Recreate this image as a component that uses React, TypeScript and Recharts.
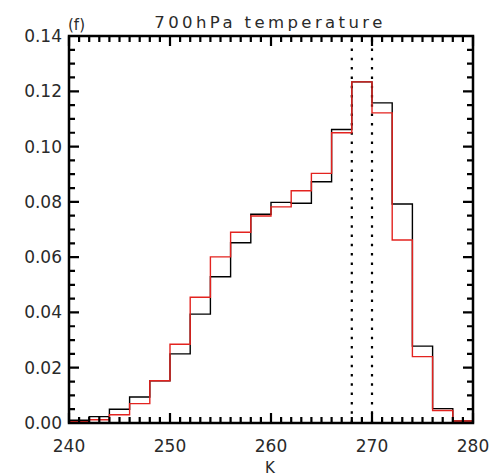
import { Line, LineChart, ReferenceLine, XAxis, YAxis } from 'recharts';

// bin edges (K), 2 K wide
const binEdges = [240, 242, 244, 246, 248, 250, 252, 254, 256, 258, 260, 262, 264, 266, 268, 270, 272, 274, 276, 278, 280];

// black histogram
const obsFreq = [
  0.001, 0.0023, 0.005, 0.0094, 0.0153, 0.025, 0.0394, 0.0529, 0.0652, 0.0755,
  0.0798, 0.0795, 0.0873, 0.1062, 0.1234, 0.1158, 0.0792, 0.0278, 0.0052, 0.0007,
];
// red histogram
const modFreq = [
  0.0005, 0.0012, 0.003, 0.007, 0.0153, 0.0285, 0.0455, 0.0601, 0.069, 0.0749,
  0.0782, 0.084, 0.0903, 0.105, 0.1234, 0.1122, 0.0662, 0.024, 0.0045, 0.0007,
];

const xMajor = [240, 250, 260, 270, 280];
const yMajor = [0, 0.02, 0.04, 0.06, 0.08, 0.1, 0.12, 0.14];
const xMinorStep = 1;
const yMinorStep = 0.005;
const dottedAt = [268, 270];

const title = '700hPa temperature';
const panel = '(f)';
const xLabel = 'K';

// layout
const W = 493;
const H = 476;
const M = { top: 36, right: 20, bottom: 23, left: 9 };
const Y_AXIS_W = 60;
const X_AXIS_H = 30;
const PLOT_L = M.left + Y_AXIS_W;
const PLOT_R = W - M.right;
const PLOT_T = M.top;
const PLOT_B = H - M.bottom - X_AXIS_H;
const FONT = '"DejaVu Sans", sans-serif';
const INK = '#2a2a2a';

const X0 = xMajor[0];
const X1 = xMajor[xMajor.length - 1];
const Y0 = yMajor[0];
const Y1 = yMajor[yMajor.length - 1];

// stepAfter needs a closing point at the right edge
const rows = binEdges.map((k, i) => {
  const j = Math.min(i, obsFreq.length - 1);
  return { k, obs: obsFreq[j], mod: modFreq[j] };
});

const xTicks: number[] = [];
for (let v = X0; v <= X1 + 1e-9; v += xMinorStep) xTicks.push(v);
const yTicks: number[] = [];
for (let i = 0; Y0 + i * yMinorStep <= Y1 + 1e-9; i++) yTicks.push(+(Y0 + i * yMinorStep).toFixed(4));

const isMajor = (v: number, list: number[]) => list.some((m) => Math.abs(m - v) < 1e-6);
const tickLen = (v: number, list: number[]) => (isMajor(v, list) ? 10 : 6);

// same linear mapping the chart uses, for the inward ticks on the frame
const px = (v: number) => PLOT_L + ((v - X0) / (X1 - X0)) * (PLOT_R - PLOT_L);
const py = (v: number) => PLOT_B - ((v - Y0) / (Y1 - Y0)) * (PLOT_B - PLOT_T);

function XTick(props: any) {
  const v = props.payload?.value;
  if (!isMajor(v, xMajor)) return <g />;
  return (
    <text x={props.x} y={PLOT_B + 29} textAnchor="middle" fontSize={17} fontFamily={FONT} fill={INK}>
      {v}
    </text>
  );
}

function YTick(props: any) {
  const v = props.payload?.value;
  if (!isMajor(v, yMajor)) return <g />;
  return (
    <text x={PLOT_L - 7} y={props.y + 6} textAnchor="end" fontSize={17} fontFamily={FONT} fill={INK}>
      {v.toFixed(2)}
    </text>
  );
}

// inward ticks on all four sides of the frame
const tickPath =
  xTicks
    .map((v) => {
      const x = px(v).toFixed(2);
      const l = tickLen(v, xMajor);
      return `M${x} ${PLOT_B}V${PLOT_B - l}M${x} ${PLOT_T}V${PLOT_T + l}`;
    })
    .join('') +
  yTicks
    .map((v) => {
      const y = py(v).toFixed(2);
      const l = tickLen(v, yMajor);
      return `M${PLOT_L} ${y}H${PLOT_L + l}M${PLOT_R} ${y}H${PLOT_R - l}`;
    })
    .join('');

export default function App() {
  return (
    <div style={{ position: 'absolute', left: 0, top: 0, width: W, height: H, background: '#fff' }}>
      <LineChart width={W} height={H} data={rows} margin={M}>
        <XAxis
          dataKey="k"
          type="number"
          domain={[X0, X1]}
          ticks={xTicks}
          interval={0}
          height={X_AXIS_H}
          axisLine={false}
          tickLine={false}
          tick={<XTick />}
        />
        <YAxis
          type="number"
          domain={[Y0, Y1]}
          ticks={yTicks}
          interval={0}
          width={Y_AXIS_W}
          axisLine={false}
          tickLine={false}
          tick={<YTick />}
        />
        {dottedAt.map((x) => (
          <ReferenceLine key={x} x={x} stroke="#000" strokeWidth={2.2} strokeDasharray="2.5 6.8" />
        ))}
        <Line
          dataKey="obs"
          type="stepAfter"
          stroke="#000"
          strokeWidth={1.4}
          dot={false}
          isAnimationActive={false}
        />
        <Line
          dataKey="mod"
          type="stepAfter"
          stroke="#e3231f"
          strokeWidth={1.4}
          dot={false}
          isAnimationActive={false}
        />
      </LineChart>
      <svg
        width={W}
        height={H}
        style={{ position: 'absolute', left: 0, top: 0, pointerEvents: 'none' }}
      >
        <path d={tickPath} fill="none" stroke="#000" strokeWidth={2.2} />
        <rect
          x={PLOT_L}
          y={PLOT_T}
          width={PLOT_R - PLOT_L}
          height={PLOT_B - PLOT_T}
          fill="none"
          stroke="#000"
          strokeWidth={2.5}
        />
        <text x={270} y={28} textAnchor="middle" fontSize={16.5} letterSpacing={3.4} fontFamily={FONT} fill={INK}>
          {title}
        </text>
        <text x={68} y={30} fontSize={15} fontFamily={FONT} fill={INK}>
          {panel}
        </text>
        <text x={270} y={473} textAnchor="middle" fontSize={15} fontFamily={FONT} fill={INK}>
          {xLabel}
        </text>
      </svg>
    </div>
  );
}
